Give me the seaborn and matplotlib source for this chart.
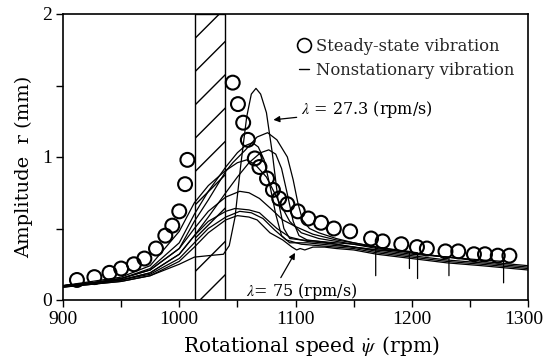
import matplotlib
matplotlib.use("Agg")
import matplotlib.pyplot as plt
import matplotlib.transforms as mtransforms
from matplotlib.lines import Line2D
import seaborn as sns
import pandas as pd

# Steady-state vibration (circles)
steady_speed = [912, 927, 940, 950, 961, 970, 980, 988, 994, 1000, 1005, 1007,
                1046, 1050.5, 1055, 1059, 1065, 1069, 1075.5, 1080.6, 1086, 1093,
                1102, 1111, 1122, 1133, 1147, 1165, 1175, 1191, 1204.5, 1213,
                1229, 1240, 1253.5, 1263, 1274, 1284]
steady_amp = [0.14, 0.16, 0.19, 0.22, 0.25, 0.29, 0.36, 0.45, 0.52, 0.62, 0.81, 0.98,
              1.52, 1.37, 1.24, 1.12, 0.99, 0.93, 0.85, 0.77, 0.71, 0.67,
              0.62, 0.57, 0.54, 0.50, 0.48, 0.43, 0.41, 0.39, 0.37, 0.36,
              0.34, 0.34, 0.32, 0.32, 0.31, 0.31]

# Nonstationary vibration curves
ns1_x = [900, 925, 950, 975, 1000, 1013, 1025, 1038, 1043, 1048, 1053, 1058, 1062, 1066, 1070, 1075,
         1080, 1085, 1090, 1095, 1105, 1120, 1135, 1150, 1169, 1169]
ns1_y = [0.09, 0.11, 0.13, 0.17, 0.25, 0.30, 0.31, 0.32, 0.38, 0.58, 0.95, 1.28, 1.44, 1.48, 1.44, 1.31,
         1.03, 0.70, 0.50, 0.43, 0.42, 0.41, 0.40, 0.39, 0.37, 0.17]

ns2_x = [900, 925, 950, 975, 1000, 1013, 1025, 1040, 1046, 1057, 1067, 1076, 1084, 1093, 1098,
         1102, 1106, 1112, 1120, 1135, 1150, 1170, 1205, 1205]
ns2_y = [0.10, 0.12, 0.15, 0.21, 0.36, 0.55, 0.70, 0.90, 0.96, 1.05, 1.14, 1.17, 1.12, 1.00, 0.84,
         0.68, 0.56, 0.50, 0.47, 0.43, 0.40, 0.37, 0.33, 0.15]

ns3_x = [900, 925, 950, 975, 1000, 1013, 1025, 1040, 1050, 1057, 1063, 1068, 1073, 1078, 1083,
         1088, 1095, 1110, 1135, 1150, 1170, 1198, 1198]
ns3_y = [0.10, 0.12, 0.15, 0.22, 0.40, 0.60, 0.76, 0.93, 1.03, 1.08, 1.10, 1.07, 0.98, 0.80, 0.60,
         0.45, 0.40, 0.40, 0.38, 0.37, 0.35, 0.34, 0.22]

ns4_x = [900, 925, 950, 975, 1000, 1013, 1025, 1040, 1050, 1060, 1070, 1077, 1083, 1088, 1093,
         1098, 1103, 1110, 1120, 1135, 1150, 1170, 1200, 1232, 1232]
ns4_y = [0.09, 0.12, 0.14, 0.19, 0.32, 0.45, 0.58, 0.75, 0.86, 0.96, 1.03, 1.05, 1.02, 0.92, 0.74,
         0.55, 0.45, 0.42, 0.41, 0.39, 0.37, 0.35, 0.32, 0.30, 0.17]

ns5_x = [900, 925, 950, 975, 1000, 1013, 1025, 1039, 1050, 1058, 1065, 1075, 1085, 1095, 1105,
         1120, 1135, 1150, 1170, 1200, 1230, 1260, 1279, 1279]
ns5_y = [0.10, 0.13, 0.16, 0.24, 0.48, 0.68, 0.80, 0.90, 0.96, 0.98, 0.95, 0.86, 0.70, 0.55, 0.47,
         0.43, 0.41, 0.39, 0.36, 0.33, 0.30, 0.28, 0.27, 0.12]

ns6_x = [900, 925, 950, 975, 1000, 1013, 1025, 1040, 1052, 1060, 1069, 1080, 1089, 1101, 1115,
         1135, 1150, 1170, 1200, 1230, 1260, 1300]
ns6_y = [0.10, 0.12, 0.15, 0.21, 0.36, 0.50, 0.62, 0.72, 0.76, 0.75, 0.71, 0.63, 0.56, 0.51, 0.46,
         0.42, 0.40, 0.37, 0.33, 0.30, 0.27, 0.24]

ns7_x = [900, 925, 950, 975, 1000, 1013, 1025, 1040, 1048, 1060, 1069, 1084, 1095, 1110, 1135,
         1150, 1170, 1200, 1230, 1260, 1300]
ns7_y = [0.09, 0.11, 0.14, 0.19, 0.32, 0.45, 0.55, 0.62, 0.64, 0.63, 0.61, 0.50, 0.44, 0.41, 0.39,
         0.37, 0.34, 0.31, 0.28, 0.26, 0.23]

ns8_x = [900, 925, 950, 975, 1000, 1013, 1025, 1040, 1052, 1062, 1072, 1082, 1092, 1105, 1120,
         1135, 1150, 1170, 1200, 1230, 1260, 1300]
ns8_y = [0.10, 0.12, 0.14, 0.18, 0.29, 0.40, 0.50, 0.58, 0.62, 0.61, 0.57, 0.49, 0.42, 0.39, 0.38,
         0.37, 0.36, 0.33, 0.30, 0.27, 0.25, 0.22]

ns9_x = [900, 925, 950, 975, 1000, 1013, 1025, 1040, 1050, 1060, 1067, 1078, 1089, 1097, 1101,
         1104, 1108, 1115, 1125, 1135, 1150, 1170, 1200, 1230, 1260, 1300]
ns9_y = [0.10, 0.11, 0.13, 0.17, 0.27, 0.37, 0.47, 0.56, 0.59, 0.58, 0.56, 0.47, 0.42, 0.37, 0.35,
         0.36, 0.35, 0.37, 0.37, 0.36, 0.35, 0.32, 0.29, 0.26, 0.24, 0.21]

unstable_range = [1013.5, 1039.3]

x_ticks = [900, 1000, 1100, 1200, 1300]
y_ticks = [0, 1, 2]

sns.set_theme(style="ticks")
plt.rcParams['font.family'] = ['DejaVu Serif']
plt.rcParams['mathtext.fontset'] = 'stix'
plt.rcParams['hatch.linewidth'] = 1.0

fig = plt.figure(figsize=(5.46, 3.61), dpi=100)
ax = fig.add_axes([63/546, 1-300/361, (528-63)/546, (300-14)/361])

ax.axvspan(unstable_range[0], unstable_range[1], facecolor='white', edgecolor='black',
           hatch='/', lw=1.0, zorder=1)

curves = [(ns1_x, ns1_y), (ns2_x, ns2_y), (ns3_x, ns3_y), (ns4_x, ns4_y), (ns5_x, ns5_y),
          (ns6_x, ns6_y), (ns7_x, ns7_y), (ns8_x, ns8_y), (ns9_x, ns9_y)]
for cx, cy in curves:
    df = pd.DataFrame({'speed': cx, 'amp': cy})
    sns.lineplot(data=df, x='speed', y='amp', sort=False, estimator=None, color='black',
                 lw=0.9, ax=ax, zorder=3)

sdf = pd.DataFrame({'speed': steady_speed, 'amp': steady_amp})
sns.scatterplot(data=sdf, x='speed', y='amp', s=100, facecolor='none', edgecolor='black',
                linewidth=1.5, ax=ax, zorder=4)

ax.set_xlim(900, 1300)
ax.set_ylim(0, 2)
ax.set_xticks(x_ticks)
ax.set_yticks(y_ticks)
ax.set_xticks([950, 1050, 1150, 1250], minor=True)
ax.set_yticks([0.5, 1.5], minor=True)
ax.tick_params(axis='both', which='major', direction='out', length=5, width=1,
               labelsize=14, color='black', labelcolor='black', pad=3,
               labelfontfamily='Liberation Serif')
ax.tick_params(axis='both', which='minor', direction='out', length=5, width=1, color='black')
for sp in ax.spines.values():
    sp.set_color('black')
    sp.set_linewidth(1.2)

# nudge the last x tick label so it stays inside the canvas
last = ax.get_xticklabels()[-1]
last.set_transform(last.get_transform() +
                   mtransforms.ScaledTranslation(-4/100, 0, fig.dpi_scale_trans))

ax.set_xlabel(r'Rotational speed $\dot{\psi}\,$ (rpm)', fontsize=14.5, color='black')
ax.set_ylabel('Amplitude  r (mm)', fontsize=14, color='black')
ax.xaxis.set_label_coords((311.5 - 63) / 465, (300 - 334) / 286)
ax.yaxis.set_label_coords((33 - 63) / 465, 1 - (167 - 14) / 286)

ax.annotate(r'$\lambda$ = 27.3 (rpm/s)', xy=(1081, 1.26), xytext=(1105, 1.33),
            fontsize=11.5, va='center', ha='left', color='black',
            arrowprops=dict(arrowstyle='-|>', color='black', lw=0.9, mutation_scale=9,
                            shrinkA=1, shrinkB=0))
ax.annotate(r'$\lambda$= 75 (rpm/s)', xy=(1099.6, 0.33), xytext=(1057, 0.06),
            fontsize=11.5, va='center', ha='left', color='black',
            arrowprops=dict(arrowstyle='-|>', color='black', lw=0.9, mutation_scale=9,
                            shrinkA=0, shrinkB=0, relpos=(0.3, 1.0)))

handles = [Line2D([], [], marker='o', ls='none', mfc='none', mec='black', mew=1.2, ms=10),
           Line2D([], [], color='black', lw=1.0)]
leg = ax.legend(handles, ['Steady-state vibration', 'Nonstationary vibration'],
                loc='upper right', frameon=False, fontsize=11.8, handlelength=0.6,
                handletextpad=0.45, borderaxespad=0.0, labelspacing=0.45,
                bbox_to_anchor=(0.985, 0.94))

fig.savefig('out.png', dpi=100)
